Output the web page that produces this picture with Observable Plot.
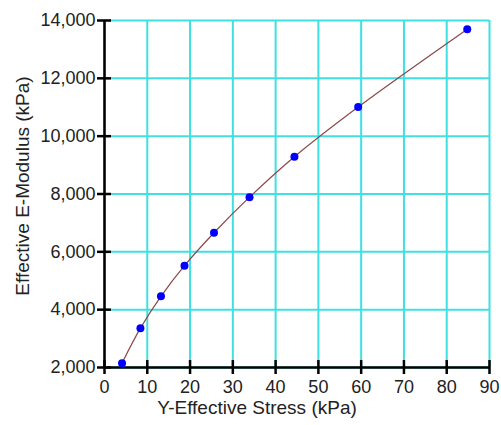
<!DOCTYPE html>
<html>
<head>
<meta charset="utf-8">
<script src="https://cdn.jsdelivr.net/npm/d3@7"></script>
<script src="https://cdn.jsdelivr.net/npm/@observablehq/plot@0.6"></script>
<style>
  html, body { margin: 0; padding: 0; background: #fff; }
  svg { display: block; }
</style>
</head>
<body>
<div id="chart"></div>
<script>
// Data
const stress  = [4.1, 8.4, 13.2, 18.7, 25.6, 33.9, 44.4, 59.3, 84.8];          // kPa
const modulus = [2150, 3360, 4460, 5520, 6660, 7890, 9290, 11010, 13700];      // kPa
const xTicks = [0, 10, 20, 30, 40, 50, 60, 70, 80, 90];
const yTicks = [2000, 4000, 6000, 8000, 10000, 12000, 14000];
const xTitle = "Y-Effective Stress (kPa)";
const yTitle = "Effective E-Modulus (kPa)";

const data = stress.map((s, i) => ({stress: s, modulus: modulus[i]}));
const fmt = d3.format(",");

const chart = Plot.plot({
  width: 501,
  height: 425,
  marginLeft: 104,
  marginRight: 12,
  marginTop: 20,
  marginBottom: 58,
  style: {fontFamily: "'Liberation Sans', Arial, sans-serif", fontSize: "18px", color: "#222", background: "#fff"},
  x: {domain: [0, 90], axis: null},
  y: {domain: [2000, 14000], axis: null},
  marks: [
    Plot.gridX(xTicks, {stroke: "#3ee0e0", strokeOpacity: 1, strokeWidth: 2}),
    Plot.gridY(yTicks, {stroke: "#3ee0e0", strokeOpacity: 1, strokeWidth: 2}),
    Plot.axisX(xTicks, {anchor: "bottom", tickSize: 14, dy: -7, tickPadding: 6, tickFormat: d => String(d), strokeWidth: 2.5, stroke: "#000", fontSize: 18, label: null}),
    Plot.axisY(yTicks, {anchor: "left", tickSize: 14, dx: 7, tickPadding: 2, tickFormat: fmt, strokeWidth: 2.5, stroke: "#000", fontSize: 18, label: null}),
    Plot.ruleX([0], {stroke: "#000", strokeWidth: 2.5}),
    Plot.ruleY([2000], {stroke: "#000", strokeWidth: 2.5}),
    Plot.line(data, {x: "stress", y: "modulus", curve: "catmull-rom", stroke: "#8b4848", strokeWidth: 1.2}),
    Plot.dot(data, {x: "stress", y: "modulus", r: 4, fill: "#0000ff", stroke: "none"}),
    Plot.text([xTitle], {frameAnchor: "bottom", dy: 46, dx: -40, fontSize: 19, fill: "#222"}),
    Plot.text([yTitle], {frameAnchor: "left", textAnchor: "middle", dx: -82, dy: -8, rotate: -90, fontSize: 19, fill: "#222"})
  ]
});
document.getElementById("chart").appendChild(chart);
</script>
</body>
</html>
